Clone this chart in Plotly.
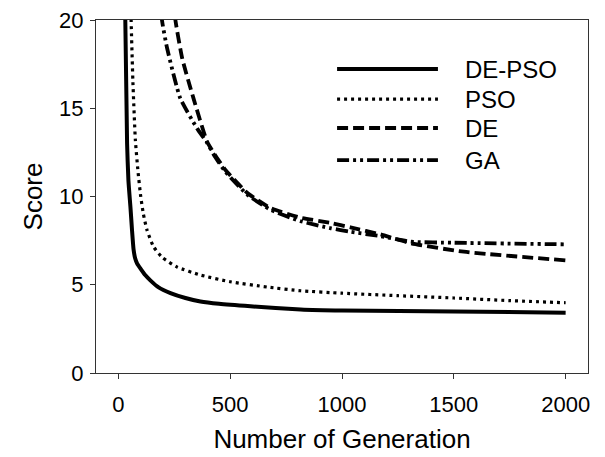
import plotly.graph_objects as go

# ---- data ----
depso_gen = [22, 31, 39, 45, 54, 61, 68, 75, 84, 100, 120, 143, 180, 233, 300, 367, 450, 591, 815, 1000, 1500, 2000]
depso_score = [24, 20, 13, 10.9, 9.4, 8.1, 7.0, 6.5, 6.2, 5.9, 5.55, 5.25, 4.85, 4.53, 4.25, 4.05, 3.92, 3.78, 3.6, 3.54, 3.48, 3.42]

pso_gen = [50, 57, 65, 76, 88, 100, 112, 128, 157, 196, 263, 367, 500, 666, 815, 1000, 1250, 1500, 1750, 2000]
pso_score = [24, 20, 16.5, 13.2, 11.4, 10.0, 9.0, 8.1, 7.16, 6.55, 6.0, 5.55, 5.17, 4.87, 4.66, 4.52, 4.38, 4.25, 4.1, 3.98]

de_gen = [240, 255, 286, 335, 397, 430, 479, 577, 680, 815, 950, 1038, 1173, 1307, 1545, 2000]
de_score = [22, 20, 17.8, 15.6, 13.1, 12.4, 11.5, 10.2, 9.35, 8.8, 8.5, 8.25, 7.85, 7.35, 6.87, 6.38]

ga_gen = [185, 195, 218, 277, 352, 394, 430, 479, 577, 680, 815, 950, 1038, 1173, 1307, 1500, 2000]
ga_score = [22, 20, 18.4, 15.56, 13.86, 13.1, 12.3, 11.4, 10.1, 9.25, 8.6, 8.2, 8.0, 7.75, 7.44, 7.38, 7.29]

series_names = ["DE-PSO", "PSO", "DE", "GA"]
x_ticks = [0, 500, 1000, 1500, 2000]
y_ticks = [0, 5, 10, 15, 20]

# ---- styles ----
styles = {
    "DE-PSO": dict(width=4, dash="solid"),
    "PSO": dict(width=3.2, dash="3px,4px"),
    "DE": dict(width=3.8, dash="11px,5px"),
    "GA": dict(width=3.8, dash="12px,4px,3px,4px,3px,4px"),
}

data = {
    "DE-PSO": (depso_gen, depso_score),
    "PSO": (pso_gen, pso_score),
    "DE": (de_gen, de_score),
    "GA": (ga_gen, ga_score),
}

FONT = "Liberation Sans, Arial, sans-serif"

fig = go.Figure()
for name in series_names:
    gx, gy = data[name]
    st = styles[name]
    fig.add_trace(go.Scatter(
        x=gx, y=gy, mode="lines", name=name,
        line=dict(color="black", width=st["width"], dash=st["dash"], shape="spline", smoothing=0.5),
        showlegend=False,
    ))

# ---- manual legend (long line samples like the reference) ----
leg_y = [0.861, 0.776, 0.694, 0.603]
for name, yy in zip(series_names, leg_y):
    st = styles[name]
    fig.add_shape(type="line", xref="paper", yref="paper",
                  x0=0.490, x1=0.695, y0=yy, y1=yy,
                  line=dict(color="black", width=st["width"], dash=st["dash"]))
    fig.add_annotation(xref="paper", yref="paper", x=0.746, y=yy,
                       text=name, showarrow=False, xanchor="left", yanchor="middle",
                       font=dict(family=FONT, size=24, color="black"))

axis_common = dict(
    showgrid=False, zeroline=False, showline=True, linecolor="#333333", linewidth=1.2,
    mirror=True, ticks="outside", ticklen=5, tickcolor="#333333", tickwidth=1.2,
    tickfont=dict(family=FONT, size=22, color="black"), automargin=False,
)

fig.update_xaxes(range=[-100, 2100], tickvals=x_ticks, ticklabelstandoff=6,
                 title=dict(text="Number of Generation", font=dict(family=FONT, size=26, color="black"), standoff=14),
                 **axis_common)
fig.update_yaxes(range=[0, 20], tickvals=y_ticks, ticklabelstandoff=2,
                 title=dict(text="Score", font=dict(family=FONT, size=26, color="black"), standoff=8),
                 **axis_common)

fig.update_layout(
    width=605, height=457,
    margin=dict(l=96, r=17, t=20, b=84),
    plot_bgcolor="white", paper_bgcolor="white",
    showlegend=False,
)

fig.write_html("out.html")
